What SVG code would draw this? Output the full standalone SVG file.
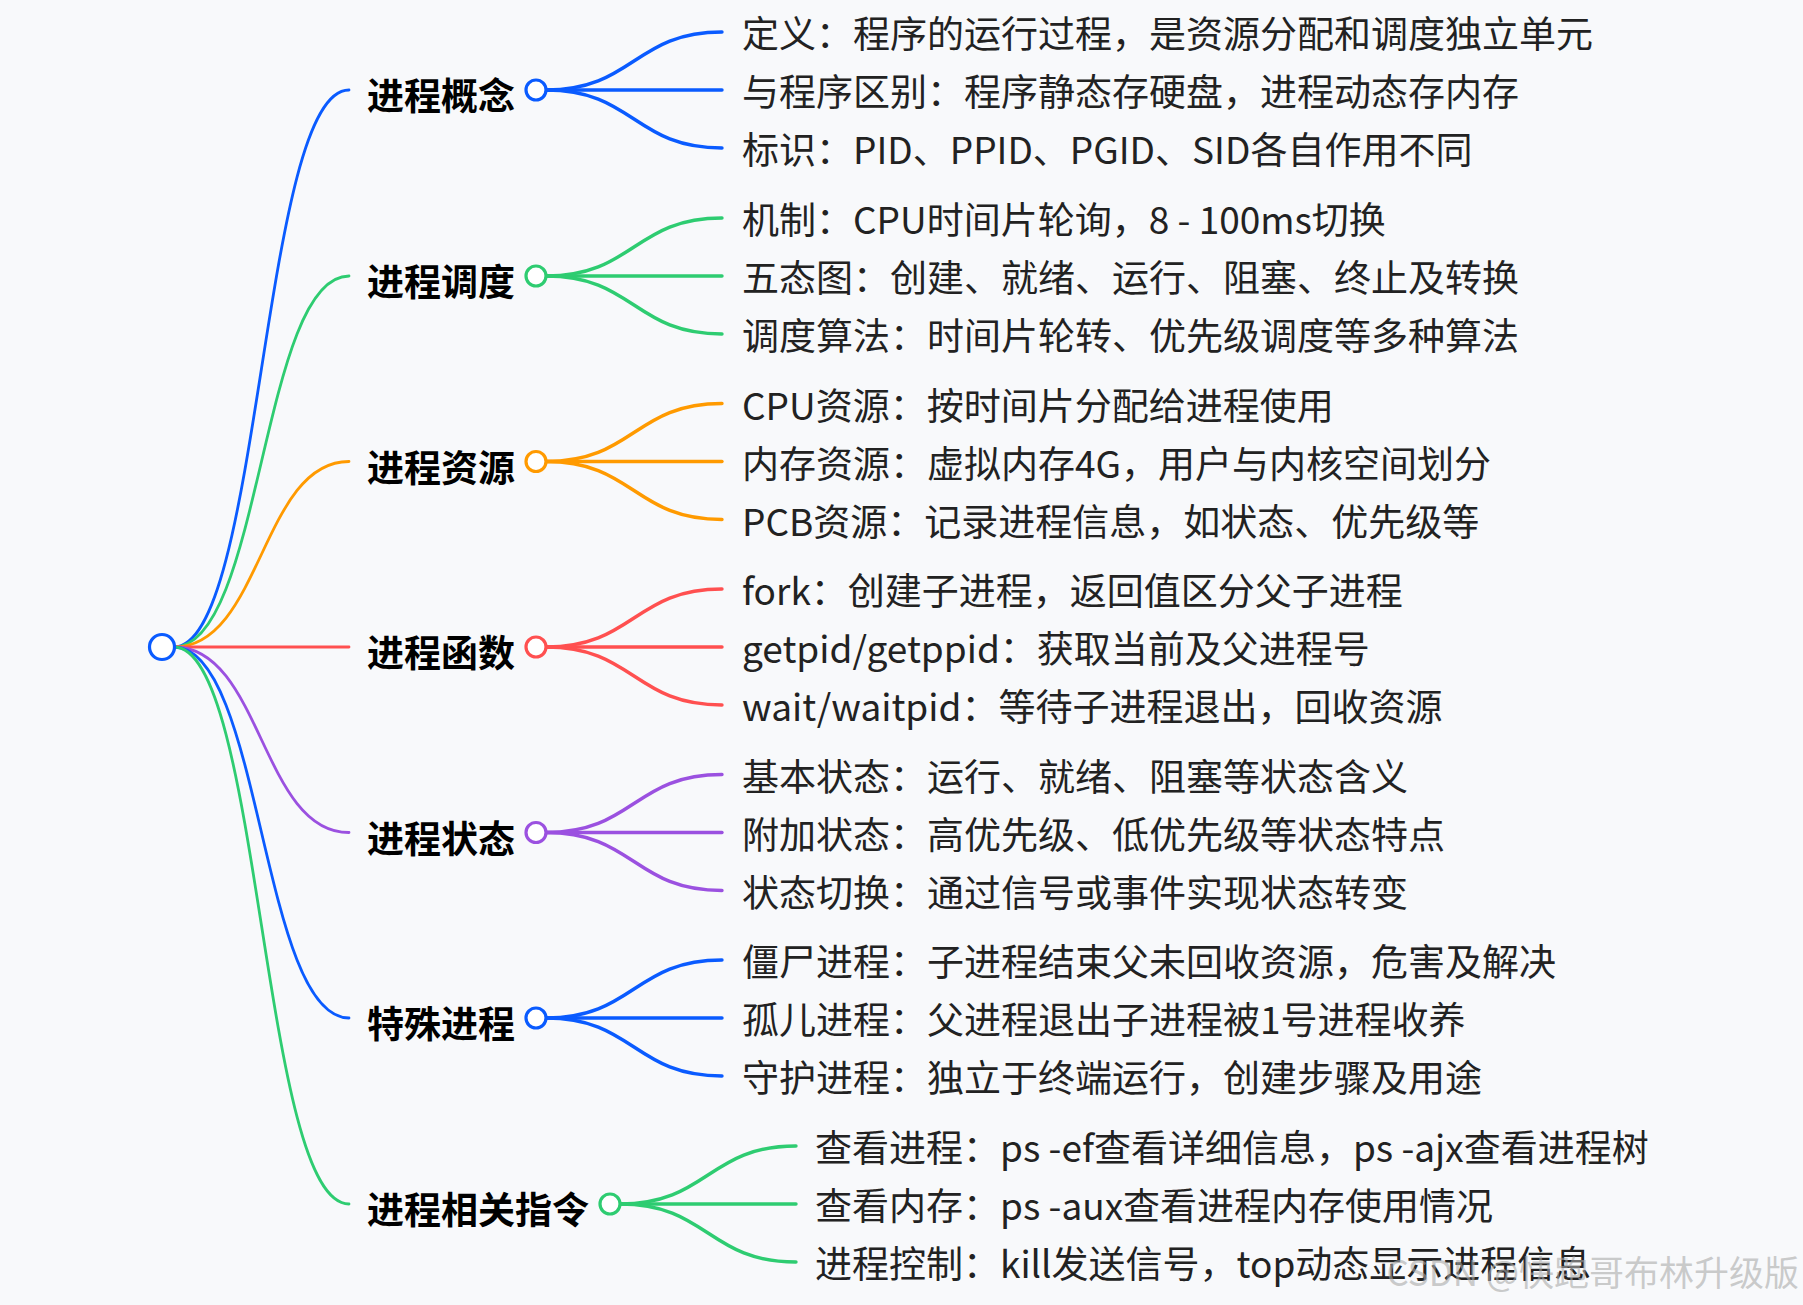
<svg xmlns="http://www.w3.org/2000/svg" width="1803" height="1305" viewBox="0 0 1803 1305">
<style>
.l1{fill:none;stroke-width:2.8;stroke-linecap:round}
.l2{fill:none;stroke-width:3.4;stroke-linecap:round}
.dot{fill:#fff;stroke-width:3.2}
.t1{font-family:"Noto Sans CJK SC","Microsoft YaHei",sans-serif;font-size:37px;font-weight:700;fill:#000;dominant-baseline:central}
.t2{font-family:"Noto Sans CJK SC","Microsoft YaHei",sans-serif;font-size:37px;fill:#222;dominant-baseline:central}
.b{stroke:#0a5bff}.g{stroke:#2ecc71}.o{stroke:#ff9a00}.r{stroke:#ff5050}.p{stroke:#9b51e0}
.wm{font-family:"Noto Sans CJK SC",sans-serif;font-size:35px;fill:#aaa;fill-opacity:0.6;dominant-baseline:central}
</style>
<rect width="1803" height="1305" fill="#f8f9fb"/>
<g id="connectors">
<path class="l1 b" d="M174,647 C261.5,647 261.5,90 349,90"/>
<path class="l1 g" d="M174,647 C261.5,647 261.5,276 349,276"/>
<path class="l1 o" d="M174,647 C261.5,647 261.5,461.5 349,461.5"/>
<path class="l1 r" d="M174,647 L349,647"/>
<path class="l1 p" d="M174,647 C261.5,647 261.5,832.5 349,832.5"/>
<path class="l1 b" d="M174,647 C261.5,647 261.5,1018 349,1018"/>
<path class="l1 g" d="M174,647 C261.5,647 261.5,1204 349,1204"/>

<path class="l2 b" d="M546,90 C634,90 634,32 722,32"/>
<path class="l2 b" d="M546,90 L722,90"/>
<path class="l2 b" d="M546,90 C634,90 634,148 722,148"/>

<path class="l2 g" d="M546,276 C634,276 634,218 722,218"/>
<path class="l2 g" d="M546,276 L722,276"/>
<path class="l2 g" d="M546,276 C634,276 634,334 722,334"/>

<path class="l2 o" d="M546,461.5 C634,461.5 634,403.5 722,403.5"/>
<path class="l2 o" d="M546,461.5 L722,461.5"/>
<path class="l2 o" d="M546,461.5 C634,461.5 634,519.5 722,519.5"/>

<path class="l2 r" d="M546,647 C634,647 634,589 722,589"/>
<path class="l2 r" d="M546,647 L722,647"/>
<path class="l2 r" d="M546,647 C634,647 634,705 722,705"/>

<path class="l2 p" d="M546,832.5 C634,832.5 634,774.5 722,774.5"/>
<path class="l2 p" d="M546,832.5 L722,832.5"/>
<path class="l2 p" d="M546,832.5 C634,832.5 634,890.5 722,890.5"/>

<path class="l2 b" d="M546,1018 C634,1018 634,960 722,960"/>
<path class="l2 b" d="M546,1018 L722,1018"/>
<path class="l2 b" d="M546,1018 C634,1018 634,1076 722,1076"/>

<path class="l2 g" d="M620,1204 C708,1204 708,1146 796,1146"/>
<path class="l2 g" d="M620,1204 L796,1204"/>
<path class="l2 g" d="M620,1204 C708,1204 708,1262 796,1262"/>
</g>

<g id="root"><circle class="dot b" cx="162" cy="647" r="12.5" stroke-width="3.5"/></g>

<g id="n1">
<text class="t1" x="367" y="94">进程概念</text>
<circle class="dot b" cx="536" cy="90" r="10"/>
</g>
<g id="n1c1"><text class="t2" x="742" y="32">定义：程序的运行过程，是资源分配和调度独立单元</text></g>
<g id="n1c2"><text class="t2" x="742" y="90">与程序区别：程序静态存硬盘，进程动态存内存</text></g>
<g id="n1c3"><text class="t2" x="742" y="148">标识：PID、PPID、PGID、SID各自作用不同</text></g>

<g id="n2">
<text class="t1" x="367" y="280">进程调度</text>
<circle class="dot g" cx="536" cy="276" r="10"/>
</g>
<g id="n2c1"><text class="t2" x="742" y="218">机制：CPU时间片轮询，8 - 100ms切换</text></g>
<g id="n2c2"><text class="t2" x="742" y="276">五态图：创建、就绪、运行、阻塞、终止及转换</text></g>
<g id="n2c3"><text class="t2" x="742" y="334">调度算法：时间片轮转、优先级调度等多种算法</text></g>

<g id="n3">
<text class="t1" x="367" y="465.5">进程资源</text>
<circle class="dot o" cx="536" cy="461.5" r="10"/>
</g>
<g id="n3c1"><text class="t2" x="742" y="403.5">CPU资源：按时间片分配给进程使用</text></g>
<g id="n3c2"><text class="t2" x="742" y="461.5">内存资源：虚拟内存4G，用户与内核空间划分</text></g>
<g id="n3c3"><text class="t2" x="742" y="519.5">PCB资源：记录进程信息，如状态、优先级等</text></g>

<g id="n4">
<text class="t1" x="367" y="651">进程函数</text>
<circle class="dot r" cx="536" cy="647" r="10"/>
</g>
<g id="n4c1"><text class="t2" x="742" y="589">fork：创建子进程，返回值区分父子进程</text></g>
<g id="n4c2"><text class="t2" x="742" y="647">getpid/getppid：获取当前及父进程号</text></g>
<g id="n4c3"><text class="t2" x="742" y="705">wait/waitpid：等待子进程退出，回收资源</text></g>

<g id="n5">
<text class="t1" x="367" y="836.5">进程状态</text>
<circle class="dot p" cx="536" cy="832.5" r="10"/>
</g>
<g id="n5c1"><text class="t2" x="742" y="774.5">基本状态：运行、就绪、阻塞等状态含义</text></g>
<g id="n5c2"><text class="t2" x="742" y="832.5">附加状态：高优先级、低优先级等状态特点</text></g>
<g id="n5c3"><text class="t2" x="742" y="890.5">状态切换：通过信号或事件实现状态转变</text></g>

<g id="n6">
<text class="t1" x="367" y="1022">特殊进程</text>
<circle class="dot b" cx="536" cy="1018" r="10"/>
</g>
<g id="n6c1"><text class="t2" x="742" y="960">僵尸进程：子进程结束父未回收资源，危害及解决</text></g>
<g id="n6c2"><text class="t2" x="742" y="1018">孤儿进程：父进程退出子进程被1号进程收养</text></g>
<g id="n6c3"><text class="t2" x="742" y="1076">守护进程：独立于终端运行，创建步骤及用途</text></g>

<g id="n7">
<text class="t1" x="367" y="1208">进程相关指令</text>
<circle class="dot g" cx="610" cy="1204" r="10"/>
</g>
<g id="n7c1"><text class="t2" x="815" y="1146">查看进程：ps -ef查看详细信息，ps -ajx查看进程树</text></g>
<g id="n7c2"><text class="t2" x="815" y="1204">查看内存：ps -aux查看进程内存使用情况</text></g>
<g id="n7c3"><text class="t2" x="815" y="1262">进程控制：kill发送信号，top动态显示进程信息</text></g>

<text class="wm" x="1799" y="1270" text-anchor="end">CSDN @快跑哥布林升级版</text>
</svg>
